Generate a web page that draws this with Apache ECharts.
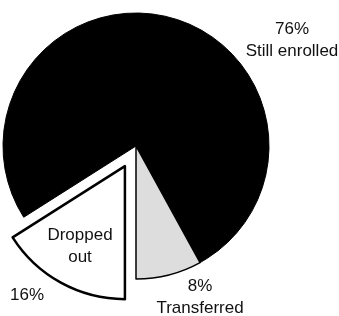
<!DOCTYPE html>
<html><head><meta charset="utf-8">
<script src="https://cdn.jsdelivr.net/npm/echarts@6/dist/echarts.min.js"></script>
<style>html,body{margin:0;padding:0;background:#fff}#c{width:339px;height:316px}</style>
</head><body><div id="c"></div>
<script>
// Data
const categories = ['Dropped out', 'Still enrolled', 'Transferred'];
const values = [16, 76, 8];
const innerLabels = ['Dropped\nout', '', ''];

// Styles
const fills = ['#ffffff', '#000000', '#dddddd'];
const borderWidths = [2.5, 1, 1.5];
const outerLabelPos = [[27, 295], [292, 40], [200, 297]];
const innerLabelPos = [[80, 246], null, null];
const FONT = '"Liberation Sans", Arial, sans-serif';

const chart = echarts.init(document.getElementById('c'), null, {renderer: 'canvas'});

function buildData(transparent) {
  return categories.map((name, i) => {
    const style = transparent
      ? {color: 'rgba(0,0,0,0)', borderWidth: 0}
      : {color: fills[i], borderColor: '#000', borderWidth: borderWidths[i]};
    return {
      name: name,
      value: values[i],
      selected: !transparent && i === 0,
      itemStyle: style,
      select: {itemStyle: style},
      emphasis: {itemStyle: style}
    };
  });
}

const labelBase = {
  show: true,
  color: '#111',
  fontFamily: FONT,
  fontSize: 17,
  lineHeight: 22,
  align: 'center',
  overflow: 'none'
};

const pieBase = {
  type: 'pie',
  center: [136, 146],
  radius: 133,
  startAngle: 270,
  clockwise: true,
  silent: true,
  labelLine: {show: false}
};

function textSeries(positions, fmt, z) {
  return Object.assign({}, pieBase, {
    selectedMode: false,
    z: z,
    label: Object.assign({}, labelBase, {position: 'outside', formatter: fmt}),
    labelLayout: p => {
      const q = positions[p.dataIndex];
      if (!q) return {};
      return {x: q[0], y: q[1], align: 'center', verticalAlign: 'middle'};
    },
    data: buildData(true)
  });
}

chart.setOption({
  animation: false,
  backgroundColor: '#fff',
  series: [
    Object.assign({}, pieBase, {
      selectedMode: 'single',
      selectedOffset: 23,
      label: {show: false},
      data: buildData(false)
    }),
    textSeries(outerLabelPos, p => p.dataIndex === 0 ? p.value + '%' : p.value + '%\n' + p.name, 5),
    textSeries(innerLabelPos, p => innerLabels[p.dataIndex], 6)
  ]
});
</script>
</body></html>
